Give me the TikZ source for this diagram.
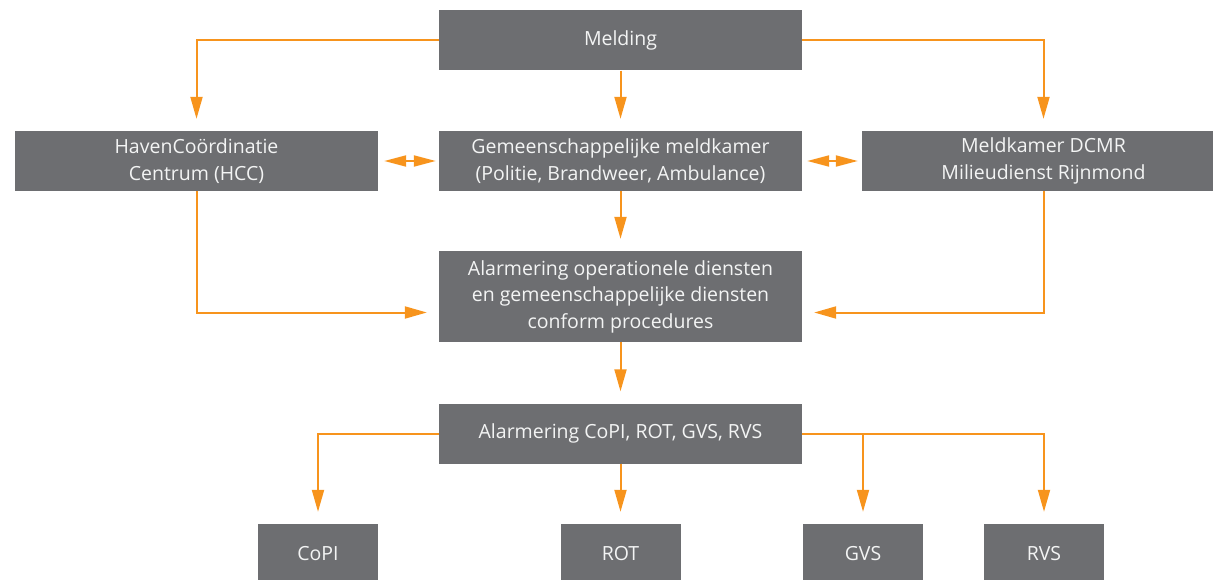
\documentclass[tikz,border=0pt]{standalone}
\usepackage{fontspec}
\setmainfont{Open Sans}
\usetikzlibrary{arrows.meta}
\definecolor{boxgray}{HTML}{6D6E71}
\definecolor{linkorange}{HTML}{F7941D}
\tikzset{
  box/.style={fill=boxgray,text=white!92!boxgray,minimum width=363pt,minimum height=60pt,
    inner sep=0pt,align=center,font=\fontsize{19.5}{26.5}\selectfont},
  endbox/.style={box,minimum width=120pt},
  link/.style={draw=linkorange,line width=2pt,-{Triangle[length=22pt,width=12pt]},shorten >=12pt},
  duallink/.style={draw=linkorange,line width=2pt,
    {Triangle[length=22pt,width=11pt]}-{Triangle[length=22pt,width=11pt]}}
}

\begin{document}
\begin{tikzpicture}[x=1pt,y=-1pt]
    \useasboundingbox (0,0) rectangle (1213,580);
    % rij 1 en 2
    \node[box] (melding) at (620.5,40.5) {Melding};
    \node[box] (hcc) at (196.5,161) {HavenCoördinatie\\Centrum (HCC)};
    \node[box] (gmk) at (620.5,161) {Gemeenschappelijke meldkamer\\(Politie, Brandweer, Ambulance)};
    \node[box] (dcmr) at (1043.5,161) {Meldkamer DCMR\\Milieudienst Rijnmond};
    % alarmering
    \node[box,minimum height=91pt] (alarm) at (620.5,296.5)
      {Alarmering operationele diensten\\en gemeenschappelijke diensten\\conform procedures};
    \node[box] (alarmcopi) at (620.5,433.5) {Alarmering CoPI, ROT, GVS, RVS};
    % onderste rij
    \node[endbox] (copi) at (318,554) {CoPI};
    \node[endbox] (rot) at (620.5,554) {ROT};
    \node[endbox] (gvs) at (863,554) {GVS};
    \node[endbox] (rvs) at (1044,554) {RVS};

    \draw[link] (melding.west) -| (hcc.north);
    \draw[link] (melding) -- (gmk);
    \draw[link] (melding.east) -| (dcmr.north);
    \draw[duallink] ([xshift=6pt]hcc.east) -- ([xshift=-3pt]gmk.west);
    \draw[duallink] ([xshift=5pt]gmk.east) -- ([xshift=-4pt]dcmr.west);
    \draw[link] (gmk) -- (alarm);
    \draw[link] (hcc.south) |- ([yshift=-16pt]alarm.west);
    \draw[link] (dcmr.south) |- ([yshift=-16pt]alarm.east);
    \draw[link] (alarm) -- (alarmcopi);
    \draw[link] (alarmcopi.west) -| (copi.north);
    \draw[link] (alarmcopi) -- (rot);
    \draw[link] (alarmcopi.east) -| (gvs.north);
    \draw[link] (alarmcopi.east) -| (rvs.north);
\end{tikzpicture}
\end{document}
